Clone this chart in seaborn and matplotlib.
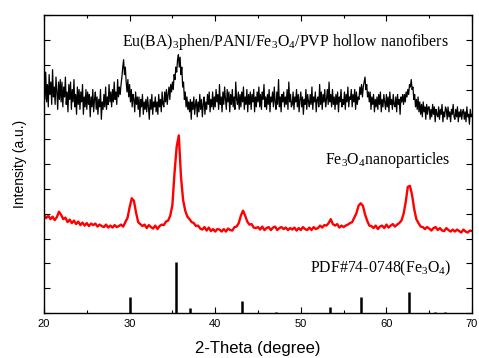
import numpy as np
import pandas as pd
import matplotlib
matplotlib.use("Agg")
import matplotlib.pyplot as plt
import seaborn as sns

# ---------------- data ----------------
black_start, black_step = 20.0, 0.1
black_intensity = [
    9.4, 8.6, 9.7, 8.5, 9.2, 8.3, 9.6, 8.8, 9.3, 8.4,
    9.8, 8.7, 9.1, 8.4, 9.5, 8.9, 8.2, 9.3, 8.6, 9.4,
    8.5, 9.3, 8.3, 9.1, 8.7, 9.5, 8.4, 8.9, 8.1, 9.2,
    8.6, 9.3, 8.2, 9.0, 8.5, 9.4, 8.3, 8.8, 8.0, 9.1,
    8.4, 9.0, 8.2, 8.9, 8.5, 9.2, 8.0, 8.7, 8.3, 9.0,
    8.2, 8.9, 8.4, 8.8, 7.9, 8.7, 8.3, 9.0, 8.1, 8.6,
    8.9, 8.2, 8.7, 8.0, 8.6, 8.3, 9.0, 7.8, 8.5, 8.2,
    8.8, 8.3, 9.1, 8.2, 8.7, 8.4, 9.2, 8.5, 8.9, 8.3,
    9.0, 8.5, 9.3, 8.6, 8.9, 8.4, 9.4, 8.7, 9.1, 8.8,
    9.2, 9.5, 9.9, 10.2, 9.6, 9.9, 9.3, 8.9, 9.4, 8.7,
    9.2, 8.5, 9.0, 8.3, 8.8, 8.6, 8.1, 8.9, 8.4, 8.7,
    8.2, 8.7, 7.9, 8.6, 8.3, 8.8, 8.0, 8.5, 8.2, 8.6,
    8.1, 8.7, 8.3, 7.8, 8.6, 8.2, 8.8, 8.0, 8.5, 8.3,
    8.7, 8.1, 8.5, 8.0, 8.8, 8.3, 8.6, 8.1, 8.9, 8.4,
    8.3, 8.9, 8.5, 9.0, 8.4, 8.8, 9.1, 8.6, 9.2, 8.9,
    9.3, 9.0, 9.6, 9.4, 9.9, 9.7, 10.2, 10.4, 9.9, 10.3,
    9.6, 9.9, 9.1, 9.3, 8.6, 8.9, 8.3, 8.7, 8.2, 8.5,
    8.1, 8.6, 7.8, 8.5, 8.2, 8.7, 8.0, 8.4, 8.6, 7.9,
    8.5, 8.1, 8.8, 8.2, 8.6, 7.9, 8.4, 8.7, 8.0, 8.5,
    8.2, 8.8, 8.4, 8.9, 8.1, 8.6, 8.3, 8.9, 8.2, 8.7,
    8.3, 9.0, 8.5, 8.8, 8.2, 9.2, 8.4, 8.7, 8.1, 8.9,
    8.4, 9.1, 8.6, 8.2, 9.0, 8.5, 8.9, 8.1, 8.8, 8.4,
    9.0, 8.3, 8.7, 8.2, 9.3, 8.6, 8.4, 8.9, 8.2, 8.8,
    8.3, 8.9, 8.5, 9.1, 8.2, 8.7, 8.4, 9.0, 8.1, 8.8,
    8.4, 8.9, 8.2, 8.8, 8.5, 9.0, 8.1, 8.7, 8.3, 8.9,
    8.5, 9.1, 8.3, 8.8, 8.2, 8.9, 8.6, 9.2, 8.3, 8.7,
    8.2, 8.8, 8.4, 9.0, 8.1, 8.7, 8.5, 8.9, 8.3, 9.1,
    8.5, 8.2, 8.9, 8.4, 9.4, 8.3, 8.7, 8.1, 8.8, 8.5,
    8.9, 8.3, 8.7, 8.4, 9.0, 8.2, 9.3, 8.5, 8.8, 8.3,
    8.4, 8.9, 8.2, 8.7, 8.5, 9.0, 8.3, 8.8, 8.1, 8.6,
    8.9, 8.3, 8.7, 8.0, 8.6, 8.4, 9.0, 8.2, 8.8, 8.5,
    8.3, 8.8, 8.4, 9.1, 8.2, 8.7, 8.5, 8.9, 8.1, 8.6,
    8.7, 8.3, 9.2, 8.4, 8.9, 8.2, 8.8, 8.5, 9.0, 8.3,
    8.6, 9.0, 8.4, 9.3, 8.5, 8.8, 8.3, 9.0, 8.4, 8.7,
    8.2, 8.8, 8.4, 8.9, 8.1, 8.7, 8.5, 9.0, 8.3, 8.6,
    8.4, 8.9, 8.2, 8.8, 8.5, 9.1, 8.3, 8.7, 8.6, 9.0,
    8.3, 8.8, 8.5, 9.0, 8.2, 8.9, 8.4, 8.7, 8.6, 9.1,
    8.8, 9.2, 8.7, 9.1, 9.3, 9.5, 9.0, 9.2, 8.7, 8.9,
    8.5, 8.9, 8.2, 8.7, 8.4, 8.8, 8.1, 8.6, 8.3, 8.7,
    8.2, 8.8, 8.4, 8.9, 8.1, 8.6, 8.3, 8.8, 8.5, 8.2,
    8.8, 8.3, 8.7, 8.1, 8.9, 8.4, 8.6, 8.2, 8.8, 8.4,
    8.3, 8.7, 8.1, 8.8, 8.4, 8.6, 8.0, 8.7, 8.5, 8.8,
    8.4, 8.8, 8.5, 8.9, 8.7, 9.0, 8.8, 9.2, 9.1, 9.4,
    9.0, 9.1, 8.6, 8.8, 8.3, 8.6, 8.2, 8.7, 8.1, 8.5,
    8.0, 8.4, 7.9, 8.5, 8.1, 8.3, 7.8, 8.4, 8.0, 8.3,
    8.3, 7.8, 8.2, 7.9, 8.4, 8.0, 8.3, 7.7, 8.2, 8.0,
    7.9, 8.3, 7.8, 8.2, 8.0, 8.4, 7.7, 8.1, 7.9, 8.3,
    8.2, 7.8, 8.3, 7.9, 8.1, 7.7, 8.2, 8.0, 8.4, 7.9,
    7.8, 8.2, 7.9, 8.3, 7.7, 8.1, 7.9, 8.2, 7.8, 8.1,
    8.2, 7.8, 8.1, 7.7, 8.3, 7.9, 8.0, 7.6, 8.2, 7.9,
    8.0,
]

red_start, red_step = 20.0, 0.25
red_intensity = [
    3.95, 3.82, 3.92, 3.78,
    3.88, 3.74, 3.86, 4.08,
    3.95, 3.78, 3.84, 3.66,
    3.76, 3.62, 3.72, 3.58,
    3.68, 3.54, 3.64, 3.52,
    3.62, 3.5, 3.6, 3.54,
    3.6, 3.48, 3.56, 3.5,
    3.46, 3.56, 3.44, 3.52,
    3.44, 3.54, 3.46, 3.5,
    3.56, 3.48, 3.66, 3.82,
    4.25, 4.62, 4.52, 4.05,
    3.66, 3.58, 3.5, 3.56,
    3.42, 3.54, 3.46, 3.4,
    3.52, 3.38, 3.5, 3.56,
    3.54, 3.68, 3.72, 3.92,
    4.35, 5.65, 6.7, 7.15,
    5.5, 4.55, 4.12, 3.88,
    3.78, 3.66, 3.62, 3.5,
    3.52, 3.4, 3.36, 3.46,
    3.32, 3.44, 3.3, 3.38,
    3.28, 3.38, 3.36, 3.28,
    3.38, 3.28, 3.4, 3.34,
    3.32, 3.46, 3.48, 3.62,
    3.92, 4.12, 3.92, 3.68,
    3.56, 3.58, 3.44, 3.42,
    3.46, 3.36, 3.48, 3.34,
    3.42, 3.46, 3.34, 3.44,
    3.48, 3.34, 3.42, 3.46,
    3.38, 3.44, 3.34, 3.42,
    3.36, 3.44, 3.32, 3.42,
    3.34, 3.46, 3.38, 3.34,
    3.44, 3.34, 3.46, 3.38,
    3.42, 3.52, 3.44, 3.54,
    3.52, 3.62, 3.78, 3.58,
    3.52, 3.58, 3.44, 3.52,
    3.46, 3.52, 3.56, 3.62,
    3.66, 3.84, 4.02, 4.32,
    4.42, 4.32, 3.98, 3.72,
    3.52, 3.5, 3.42, 3.52,
    3.38, 3.48, 3.52, 3.42,
    3.56, 3.44, 3.52, 3.58,
    3.48, 3.56, 3.62, 3.72,
    3.98, 4.45, 5.08, 5.12,
    4.75, 4.18, 3.78, 3.62,
    3.48, 3.46, 3.38, 3.46,
    3.4, 3.32, 3.42, 3.46,
    3.34, 3.42, 3.32, 3.3,
    3.42, 3.34, 3.28, 3.36,
    3.28, 3.36, 3.3, 3.24,
    3.36, 3.28, 3.24, 3.32,
    3.3,
]

pdf_positions = [30.1, 35.45, 37.1, 43.1, 47.1, 53.45, 57.0, 62.6, 65.7, 66.8]
pdf_heights = [0.63, 2.04, 0.2, 0.48, 0.04, 0.23, 0.63, 0.83, 0.05, 0.04]

label_fibers = r"Eu(BA)$_{\mathrm{3}}$phen/PANI/Fe$_{\mathrm{3}}$O$_{\mathrm{4}}$/PVP hollow nanofibers"
label_np = r"Fe$_{\mathrm{3}}$O$_{\mathrm{4}}$nanoparticles"
label_pdf = r"PDF#74-0748(Fe$_{\mathrm{3}}$O$_{\mathrm{4}}$)"
x_ticks = [20, 30, 40, 50, 60, 70]

# ---------------- build frames ----------------
black_df = pd.DataFrame({
    "two_theta": np.round(black_start + black_step * np.arange(len(black_intensity)), 3),
    "intensity": black_intensity,
})
red_df = pd.DataFrame({
    "two_theta": np.round(red_start + red_step * np.arange(len(red_intensity)), 3),
    "intensity": red_intensity,
})

# ---------------- style ----------------
sns.set_theme(style="white")
plt.rcParams["font.family"] = ["Liberation Sans", "DejaVu Sans"]
plt.rcParams["mathtext.fontset"] = "custom"
plt.rcParams["mathtext.rm"] = "Liberation Serif"
plt.rcParams["mathtext.it"] = "Liberation Serif:italic"
plt.rcParams["mathtext.default"] = "rm"
plt.rcParams["text.color"] = "black"
plt.rcParams["axes.labelcolor"] = "black"
plt.rcParams["xtick.color"] = "black"
plt.rcParams["ytick.color"] = "black"

fig = plt.figure(figsize=(4.79, 3.58), dpi=100)
ax = fig.add_axes([44 / 479, 45 / 358, 428 / 479, 298 / 358])

sns.lineplot(data=black_df, x="two_theta", y="intensity", ax=ax,
             color="black", linewidth=0.9)
sns.lineplot(data=red_df, x="two_theta", y="intensity", ax=ax,
             color="#ff0000", linewidth=1.7)
ax.vlines(pdf_positions, 0, pdf_heights, colors="black", linewidth=1.8)

ax.set_xlim(20, 70)
ax.set_ylim(0, 12)
ax.set_xticks(x_ticks)
ax.set_xticks([25, 35, 45, 55, 65], minor=True)
ax.set_yticks(range(0, 13))
ax.set_yticklabels([])
ax.tick_params(axis="both", which="both", direction="in", top=True, right=True,
               bottom=True, left=True, colors="black", labelcolor="black")
ax.tick_params(axis="both", which="major", length=4, width=0.8)
ax.tick_params(axis="x", which="minor", length=2.5, width=0.8)
ax.tick_params(axis="x", labelsize=8, pad=4)
for s in ax.spines.values():
    s.set_color("black")
    s.set_linewidth(1.0)

ax.set_xlabel("2-Theta (degree)", fontsize=12, labelpad=9, color="black")
ax.set_ylabel("Intensity (a.u.)", fontsize=10, labelpad=9, color="black")

serif = ["Liberation Serif", "DejaVu Serif"]
ax.text(29.1, 10.9, label_fibers, family=serif, fontsize=11.4, va="center", ha="left", color="black")
ax.text(52.8, 6.16, label_np, family=serif, fontsize=11.4, va="center", ha="left", color="black")
ax.text(51.1, 1.81, label_pdf, family=serif, fontsize=11.4, va="center", ha="left", color="black")

fig.savefig("out.png", dpi=100)
